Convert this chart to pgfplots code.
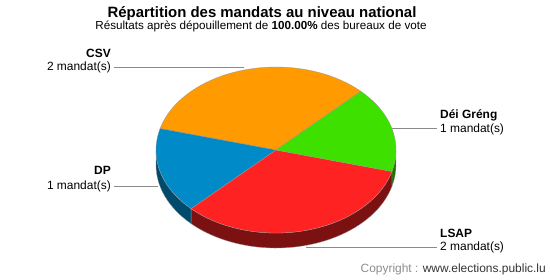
\documentclass[border=0pt]{standalone}
\usepackage{fontspec}
\setmainfont{Liberation Sans}
\usepackage{pgfplots}
\pgfplotsset{compat=1.18}
\definecolor{cCSV}{HTML}{FF9A00}
\definecolor{cDP}{HTML}{008BC8}
\definecolor{cLSAP}{HTML}{FF2222}
\definecolor{cGR}{HTML}{3EE000}
\definecolor{dDP}{HTML}{004B6C}
\definecolor{dLSAP}{HTML}{7C1111}
\definecolor{dGR}{HTML}{1F7000}
\definecolor{lline}{HTML}{8A8A8A}
\definecolor{cpy}{HTML}{8C8C8C}
\newcommand\topslice[3]{\addplot[fill=#1, draw=black!40, line width=0.3pt, domain=#2:#3, samples=90, variable=\t]
  ({276+120*cos(\t)},{130+83*sin(\t)}) -- (276,130) -- cycle;}
\newcommand\sideslice[3]{\addplot[fill=#1, draw=black!40, line width=0.3pt, domain=#2:#3, samples=90, variable=\t]
  ({276+120*cos(\t)},{130+83*sin(\t)}) -- ++(0,-15bp) arc[start angle=#3, end angle=#2, x radius=120bp, y radius=83bp] -- cycle;}
\begin{document}
\begin{tikzpicture}
% seats (mandats)
\def\vCSV{2}\def\vDP{1}\def\vLSAP{2}\def\vGR{1}
\pgfmathsetmacro\tot{\vCSV+\vDP+\vLSAP+\vGR}
\pgfmathsetmacro\aCSV{45}
\pgfmathsetmacro\bCSV{\aCSV+360*\vCSV/\tot}
\pgfmathsetmacro\bDP{\bCSV+360*\vDP/\tot}
\pgfmathsetmacro\bLSAP{\bDP+360*\vLSAP/\tot}
\pgfmathsetmacro\bGR{\bLSAP+360*\vGR/\tot}
\useasboundingbox (0,0) rectangle (550bp,280bp);
\begin{axis}[at={(0,0)}, anchor=south west, scale only axis, width=550bp, height=280bp,
  xmin=0, xmax=550, ymin=0, ymax=280, hide axis, clip=false]
% side walls (front half)
\sideslice{dDP}{180}{\bDP}
\sideslice{dLSAP}{\bDP}{\bLSAP}
\sideslice{dGR}{\bLSAP}{360}
% top surface
\topslice{cCSV}{\aCSV}{\bCSV}
\topslice{cDP}{\bCSV}{\bDP}
\topslice{cLSAP}{\bDP}{\bLSAP}
\topslice{cGR}{\bLSAP}{\bGR}
% leader lines
\draw[lline, line width=0.8pt] (114,213) -- (244,213);
\draw[lline, line width=0.8pt] (392,152) -- (437,152);
\draw[lline, line width=0.8pt] (114,94) -- (158,94);
\draw[lline, line width=0.8pt] (306,33) -- (437,33);
% labels
\tikzset{lab/.style={inner sep=0pt, font=\fontsize{12}{14}\selectfont},
         labb/.style={inner sep=0pt, font=\bfseries\fontsize{12}{14}\selectfont}}
\node[labb, anchor=base east] at (111,223) {CSV};
\node[lab, anchor=base east] at (111,210) {2 mandat(s)};
\node[labb, anchor=base west] at (440,162) {Déi Gréng};
\node[lab, anchor=base west] at (440,148) {1 mandat(s)};
\node[labb, anchor=base east] at (111,106) {DP};
\node[lab, anchor=base east] at (111,91) {1 mandat(s)};
\node[labb, anchor=base west] at (440,43) {LSAP};
\node[lab, anchor=base west] at (440,30) {2 mandat(s)};
% titles
\node[inner sep=0pt, anchor=base, font=\bfseries\fontsize{15}{17}\selectfont] at (262,263) {Répartition des mandats au niveau national};
\node[inner sep=0pt, anchor=base, font=\fontsize{11.7}{14}\selectfont] at (261,251) {Résultats après dépouillement de \textbf{100.00\%} des bureaux de vote};
\node[inner sep=0pt, anchor=base east, font=\fontsize{12}{14}\selectfont] at (546,8) {\textcolor{cpy}{Copyright :} \textcolor{black!80}{www.elections.public.lu}};
\end{axis}
\end{tikzpicture}
\end{document}
